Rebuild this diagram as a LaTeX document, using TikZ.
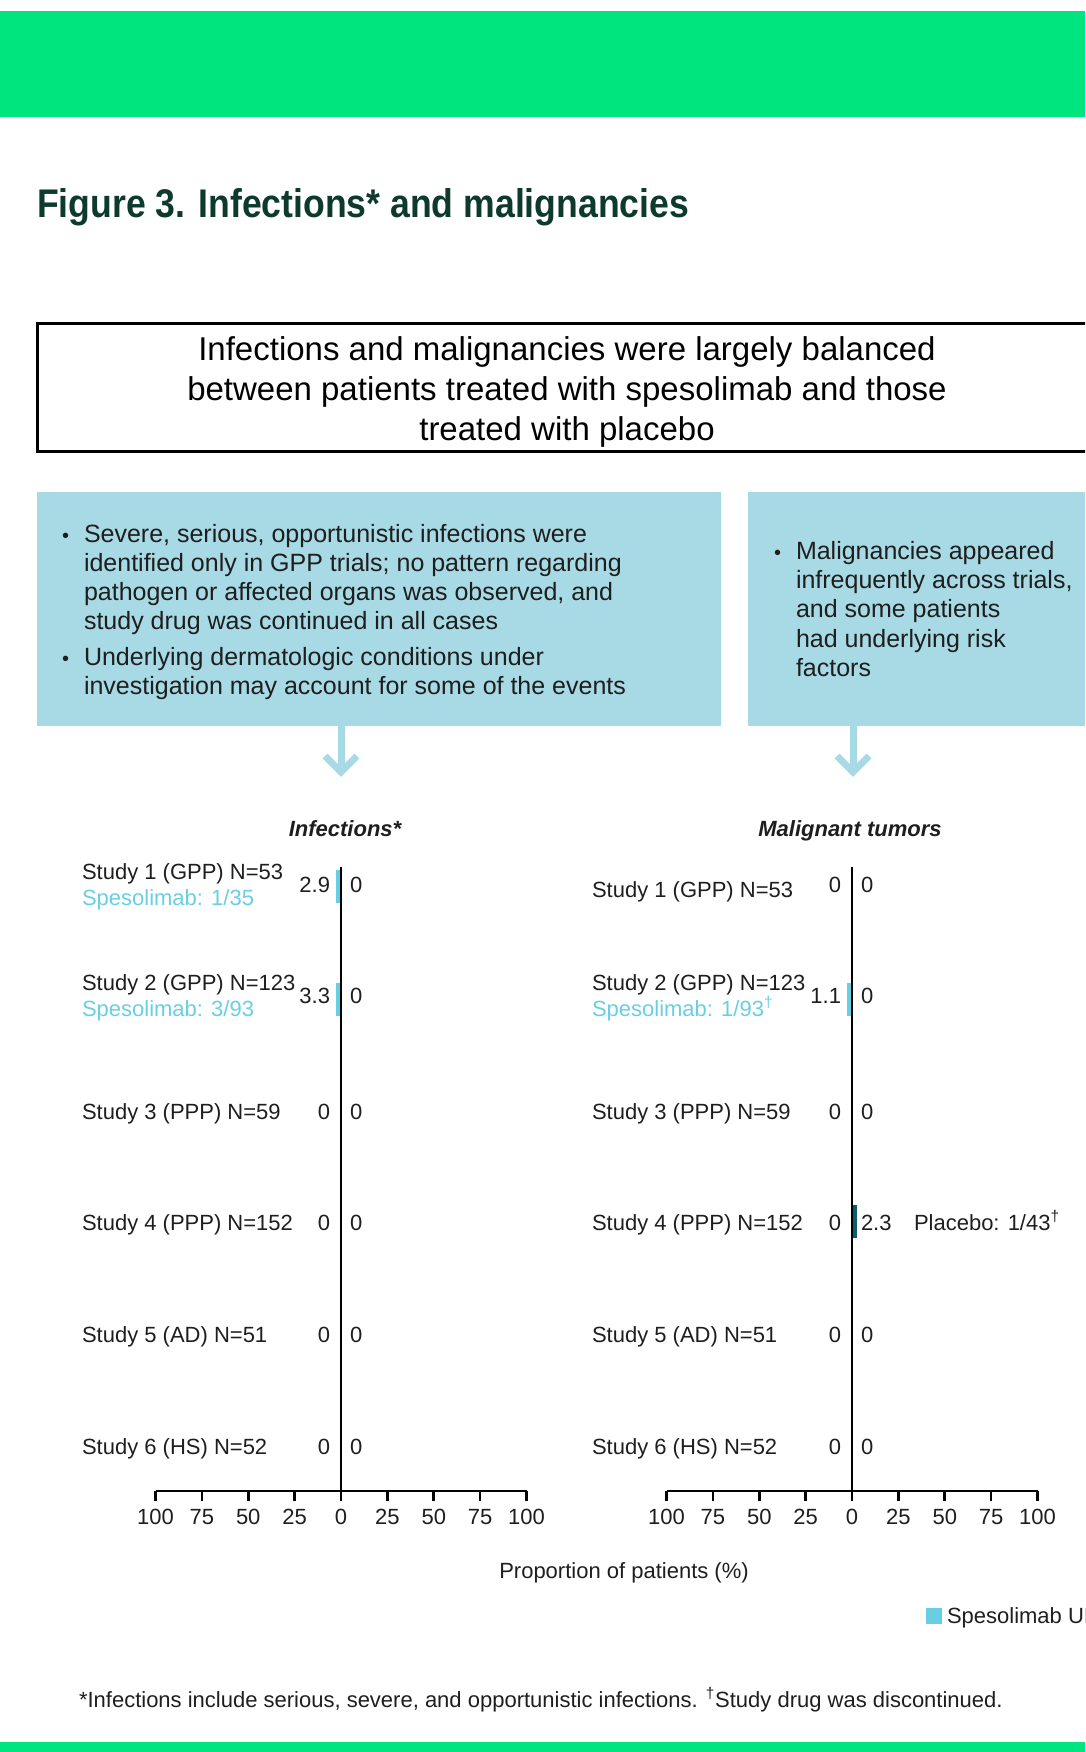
\documentclass[tikz,border=0pt]{standalone}
\usepackage{fontspec}
\setmainfont{Liberation Sans}
\usepackage{graphicx}
\usetikzlibrary{fit,calc}
\definecolor{bannergreen}{RGB}{0,229,125}
\definecolor{titlegreen}{RGB}{14,58,46}
\definecolor{boxblue}{RGB}{168,218,229}
\definecolor{cyanbar}{RGB}{104,207,226}
\definecolor{tealbar}{RGB}{11,94,108}
\definecolor{ink}{RGB}{30,30,30}
\begin{document}
\begin{tikzpicture}[x=0.75pt,y=-0.75pt,
  every node/.style={inner sep=0pt,outer sep=0pt},
  lab/.style={anchor=base west,font=\fontsize{16.5pt}{19pt}\selectfont,text=ink},
  sublab/.style={lab,text=cyanbar},
  vall/.style={anchor=base east,font=\fontsize{16.5pt}{19pt}\selectfont,text=ink},
  valr/.style={anchor=base west,font=\fontsize{16.5pt}{19pt}\selectfont,text=ink},
  ticklab/.style={anchor=base,font=\fontsize{16.5pt}{19pt}\selectfont,text=ink},
  charttitle/.style={anchor=base,font=\fontsize{16.5pt}{19pt}\selectfont\bfseries\itshape,text=ink},
  boxtext/.style={anchor=base west,font=\fontsize{18.75pt}{22pt}\selectfont,text=ink},
  bulletmark/.style={anchor=base west,font=\fontsize{15pt}{22pt}\selectfont,text=ink},
  hdr/.style={anchor=base,font=\fontsize{24.75pt}{30pt}\selectfont,text=black},
  axisline/.style={draw=black,line width=1.9pt},
  arrowc/.style={draw=boxblue,line width=5.25pt,line cap=butt,miter limit=10},
]
\useasboundingbox (0,0) rectangle (1085,1752);
\clip (0,0) rectangle (1085,1752);

% banners
\fill[bannergreen] (0,11) rectangle (1085,117);
\fill[bannergreen] (0,1742) rectangle (1085,1752);

% title
\node[anchor=base west,font=\fontsize{30pt}{36pt}\selectfont\bfseries,text=titlegreen] (title) at (37,217)
  {\scalebox{0.89}[1]{Figure 3. Infections* and malignancies}};

% header box
\node[fit={(37,323.5) (1110,451)},draw=black,line width=2.25pt] (hbox) {};
\node[hdr] (h1) at (567,360) {Infections and malignancies were largely balanced};
\node[hdr] (h2) at (567,400) {between patients treated with spesolimab and those};
\node[hdr] (h3) at (567,440) {treated with placebo};

% blue boxes
\node[fit={(37,492) (721,726)},fill=boxblue] (lbox) {};
\node[fit={(748,492) (1110,726)},fill=boxblue] (rbox) {};

\node[bulletmark] (lb1) at (62,542) {•};
\node[boxtext] (lt1) at (84,542) {Severe, serious, opportunistic infections were};
\node[boxtext] (lt2) at (84,571) {identified only in GPP trials; no pattern regarding};
\node[boxtext] (lt3) at (84,600) {pathogen or affected organs was observed, and};
\node[boxtext] (lt4) at (84,629) {study drug was continued in all cases};
\node[bulletmark] (lb2) at (62,665) {•};
\node[boxtext] (lt5) at (84,665) {Underlying dermatologic conditions under};
\node[boxtext] (lt6) at (84,694) {investigation may account for some of the events};

\node[bulletmark] (rb1) at (774,559) {•};
\node[boxtext] (rt1) at (796,559) {Malignancies appeared};
\node[boxtext] (rt2) at (796,588) {infrequently across trials,};
\node[boxtext] (rt3) at (796,617) {and some patients};
\node[boxtext] (rt4) at (796,647) {had underlying risk};
\node[boxtext] (rt5) at (796,676) {factors};

% arrows
\coordinate (tipL) at (341,772);
\coordinate (tipR) at (853,772);
\draw[arrowc] (lbox.south -| tipL) -- (tipL);
\draw[arrowc] ($(tipL)+(-16,-16)$) -- (tipL) -- ($(tipL)+(16,-16)$);
\draw[arrowc] (rbox.south -| tipR) -- (tipR);
\draw[arrowc] ($(tipR)+(-16,-16)$) -- (tipR) -- ($(tipR)+(16,-16)$);

% chart titles
\node[charttitle] (ctL) at (345,836) {Infections*};
\node[charttitle] (ctR) at (850,836) {Malignant tumors};

% ---------- left chart (axis at x=341) ----------
\fill[cyanbar] (336,870) rectangle (341,903);
\fill[cyanbar] (336,983) rectangle (341,1016);

\node[lab] (L1a) at (82,879) {Study 1 (GPP) N=53};
\node[sublab] (L1b) at (82,905) {Spesolimab: 1/35};
\node[vall] (L1l) at (330,892) {2.9};
\node[valr] (L1r) at (350,892) {0};

\node[lab] (L2a) at (82,990) {Study 2 (GPP) N=123};
\node[sublab] (L2b) at (82,1016) {Spesolimab: 3/93};
\node[vall] (L2l) at (330,1003) {3.3};
\node[valr] (L2r) at (350,1003) {0};

\node[lab] (L3a) at (82,1119) {Study 3 (PPP) N=59};
\node[vall] (L3l) at (330,1119) {0};
\node[valr] (L3r) at (350,1119) {0};

\node[lab] (L4a) at (82,1230) {Study 4 (PPP) N=152};
\node[vall] (L4l) at (330,1230) {0};
\node[valr] (L4r) at (350,1230) {0};

\node[lab] (L5a) at (82,1342) {Study 5 (AD) N=51};
\node[vall] (L5l) at (330,1342) {0};
\node[valr] (L5r) at (350,1342) {0};

\node[lab] (L6a) at (82,1454) {Study 6 (HS) N=52};
\node[vall] (L6l) at (330,1454) {0};
\node[valr] (L6r) at (350,1454) {0};

\draw[axisline] (341,867) -- (341,1491);
\draw[axisline] (155.5,1491) -- (526.5,1491);
\foreach \k/\t in {-4/100,-3/75,-2/50,-1/25,0/0,1/25,2/50,3/75,4/100}{
  \draw[axisline] (341+\k*46.375,1491) -- ++(0,10);
  \node[ticklab] (tL\k) at (341+\k*46.375,1524) {\t};
}

% ---------- right chart (axis at x=852) ----------
\fill[cyanbar] (847,983) rectangle (852,1016);
\fill[tealbar] (852,1205) rectangle (857,1238);

\node[lab] (R1a) at (592,897) {Study 1 (GPP) N=53};
\node[vall] (R1l) at (841,892) {0};
\node[valr] (R1r) at (861,892) {0};

\node[lab] (R2a) at (592,990) {Study 2 (GPP) N=123};
\node[sublab] (R2b) at (592,1016) {Spesolimab: 1/93\textsuperscript{†}};
\node[vall] (R2l) at (841,1003) {1.1};
\node[valr] (R2r) at (861,1003) {0};

\node[lab] (R3a) at (592,1119) {Study 3 (PPP) N=59};
\node[vall] (R3l) at (841,1119) {0};
\node[valr] (R3r) at (861,1119) {0};

\node[lab] (R4a) at (592,1230) {Study 4 (PPP) N=152};
\node[vall] (R4l) at (841,1230) {0};
\node[valr] (R4r) at (861,1230) {2.3};
\node[lab] (R4p) at (914,1230) {Placebo: 1/43\textsuperscript{†}};

\node[lab] (R5a) at (592,1342) {Study 5 (AD) N=51};
\node[vall] (R5l) at (841,1342) {0};
\node[valr] (R5r) at (861,1342) {0};

\node[lab] (R6a) at (592,1454) {Study 6 (HS) N=52};
\node[vall] (R6l) at (841,1454) {0};
\node[valr] (R6r) at (861,1454) {0};

\draw[axisline] (852,867) -- (852,1491);
\draw[axisline] (666.5,1491) -- (1037.5,1491);
\foreach \k/\t in {-4/100,-3/75,-2/50,-1/25,0/0,1/25,2/50,3/75,4/100}{
  \draw[axisline] (852+\k*46.375,1491) -- ++(0,10);
  \node[ticklab] (tR\k) at (852+\k*46.375,1524) {\t};
}

% axis title, legend, footnote
\node[ticklab] (xlab) at (624,1578) {Proportion of patients (\%)};
\fill[cyanbar] (926,1608) rectangle (941.5,1624);
\node[lab] (leg) at (947,1623) {Spesolimab UI};
\node[lab] (foot) at (79,1707) {*Infections include serious, severe, and opportunistic infections. \textsuperscript{†}Study drug was discontinued.};
\end{tikzpicture}
\end{document}
